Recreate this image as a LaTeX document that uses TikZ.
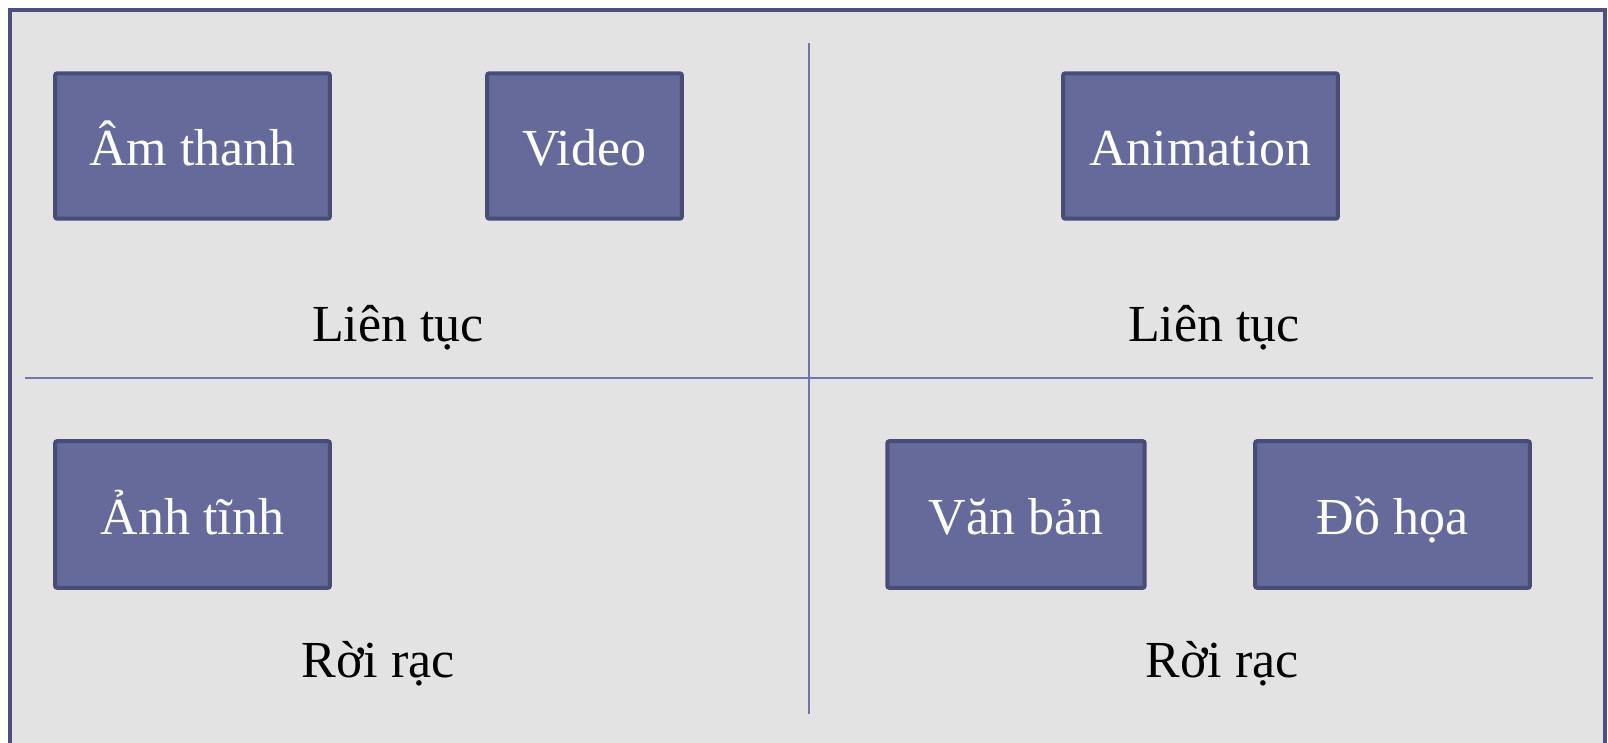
\documentclass[tikz,border=0pt]{standalone}
\usepackage{fontspec}
\setmainfont{Liberation Serif}
\definecolor{panelbg}{HTML}{E3E3E3}
\definecolor{boxfill}{HTML}{666A9A}
\definecolor{boxedge}{HTML}{4A4C78}
\definecolor{frameedge}{HTML}{4D4F7E}
\definecolor{divider}{HTML}{7075AA}
\begin{document}
\begin{tikzpicture}[x=0.75pt,y=-0.75pt,
  catbox/.style={draw=boxedge, fill=boxfill, line width=3pt, rounded corners=1.5pt,
    text=white, font=\fontsize{39}{47}\selectfont, inner sep=0pt,
    text height=36pt, text depth=6.75pt, minimum height=109pt},
  grouplabel/.style={font=\fontsize{39}{47}\selectfont, text=black, anchor=base, inner sep=0pt},
  divline/.style={draw=divider, line width=1.4pt}]
  \useasboundingbox (0,0) rectangle (1608,742);
  \begin{scope}
    \clip (0,0) rectangle (1608,742);
    % outer panel
    \draw[fill=panelbg, draw=frameedge, line width=3pt] (10,10) rectangle (1605,770);
  \end{scope}

  % quadrant dividers
  \coordinate (vtop) at (809,43);
  \coordinate (vbot) at (809,714);
  \coordinate (hleft) at (25,378);
  \coordinate (hright) at (1593,378);
  \draw[divline] (vtop) -- (vbot);
  \draw[divline] (hleft) -- (hright);

  % media boxes
  \node[catbox, minimum width=206pt] (amthanh) at (192.5,146) {Âm thanh};
  \node[catbox, minimum width=146pt] (video) at (584.5,146) {Video};
  \node[catbox, minimum width=206pt] (anim) at (1200.5,146) {Animation};
  \node[catbox, minimum width=206pt, minimum height=110pt] (anhtinh) at (192.5,514.5) {Ảnh tĩnh};
  \node[catbox, minimum width=193pt, minimum height=110pt] (vanban) at (1016,514.5) {Văn bản};
  \node[catbox, minimum width=206pt, minimum height=110pt] (dohoa) at (1392.5,514.5) {Đồ họa};

  % group labels
  \node[grouplabel] (lt1) at (398,341) {Liên tục};
  \node[grouplabel] (lt2) at (1214,341) {Liên tục};
  \node[grouplabel] (rr1) at (378,677) {Rời rạc};
  \node[grouplabel] (rr2) at (1222,677) {Rời rạc};
\end{tikzpicture}
\end{document}
